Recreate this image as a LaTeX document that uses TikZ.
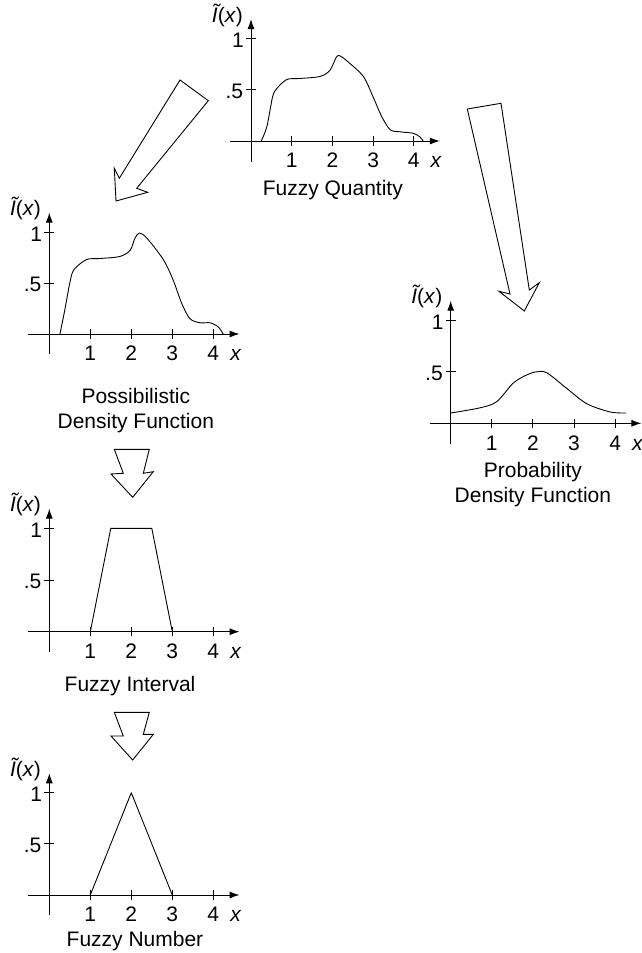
\documentclass[tikz,border=0pt]{standalone}
\usepackage{fontspec}
\setmainfont{Liberation Sans}
\usetikzlibrary{arrows.meta}

\tikzset{
  axisline/.style={line width=1pt, -{Latex[length=10pt,width=7pt]}},
  tickmark/.style={line width=1pt},
  fcurve/.style={line width=0.9pt, line join=round},
  hollow/.style={line width=0.9pt, fill=white, line join=miter},
  lbl/.style={font=\fontsize{21}{25}\selectfont, inner sep=0pt},
  pics/fuzzyaxes/.style={code={
    \draw[axisline] (-0.51,0) -- (4.64,0);
    \draw[axisline] (0,-0.2) -- (0,1.19);
    \foreach \n in {1,...,4} {
      \draw[tickmark] (\n,-0.045) -- (\n,0.045);
      \node[lbl, anchor=base] (-x\n) at (\n,-0.26) {\n};
    }
    \draw[tickmark] (-0.12,1) -- (0.12,1);
    \draw[tickmark] (-0.12,0.5) -- (0.12,0.5);
    \node[lbl, anchor=east] (-one) at (-0.17,0.98) {1};
    \node[lbl, anchor=east] (-half) at (-0.19,0.485) {.5};
    \node[lbl, anchor=base] (-xlab) at (4.55,-0.26) {\textit{x}};
    \node[lbl, anchor=base] (-ylab) at (-0.58,1.16) {{\itshape\~I}(\textit{x})};
  }}
}

\begin{document}
\begin{tikzpicture}[x=1pt, y=-1pt]
    \useasboundingbox (0,0) rectangle (642,953);

    % Fuzzy Quantity
    \begin{scope}[shift={(251,141)}, x=40.7pt, y=102.5pt]
        \pic (quant) {fuzzyaxes};
        \draw[fcurve] plot[smooth, tension=0.5] coordinates {(0.25,0) (0.39,0.14) (0.53,0.43) (0.63,0.51) (0.88,0.60) (1.2,0.61) (1.7,0.63) (1.94,0.69) (2.1,0.82) (2.19,0.83) (2.39,0.77) (2.76,0.63) (3.0,0.43) (3.21,0.24) (3.42,0.11) (3.66,0.09) (3.99,0.075) (4.15,0.04) (4.23,0)};
        \node[lbl, anchor=base] (quantity) at (2.01,-0.527) {Fuzzy Quantity};
    \end{scope}

    % Possibilistic Density Function
    \begin{scope}[shift={(49.3,334)}, x=41pt, y=102pt]
        \pic (poss) {fuzzyaxes};
        \draw[fcurve] plot[smooth, tension=0.5] coordinates {(0.26,0) (0.38,0.24) (0.5,0.5) (0.6,0.63) (0.91,0.73) (1.24,0.74) (1.72,0.76) (1.97,0.82) (2.09,0.94) (2.2,0.99) (2.38,0.94) (2.78,0.73) (3.02,0.53) (3.23,0.3) (3.43,0.15) (3.68,0.11) (3.92,0.11) (4.12,0.07) (4.24,0)};
        \node[lbl, anchor=north, align=center] (possib) at (2.11,-0.532) {Possibilistic\\Density Function};
    \end{scope}

    % Probability Density Function
    \begin{scope}[shift={(450.7,423.3)}, x=41.1pt, y=103pt]
        \pic (prob) {fuzzyaxes};
        \draw[fcurve] plot[smooth, tension=0.5] coordinates {(0,0.1) (0.71,0.15) (1.12,0.21) (1.52,0.39) (1.85,0.47) (2.09,0.5) (2.34,0.49) (2.82,0.34) (3.31,0.19) (3.88,0.11) (4.27,0.1)};
        \node[lbl, anchor=north, align=center] (probab) at (2.0,-0.373) {Probability\\Density Function};
    \end{scope}

    % Fuzzy Interval
    \begin{scope}[shift={(49.3,631.7)}, x=41pt, y=103.4pt]
        \pic (intv) {fuzzyaxes};
        \draw[fcurve] (1,0) -- (1.5,1) -- (2.5,1) -- (3,0);
        \node[lbl, anchor=base] (interval) at (1.97,-0.58) {Fuzzy Interval};
    \end{scope}

    % Fuzzy Number
    \begin{scope}[shift={(49.3,895)}, x=41pt, y=102.3pt]
        \pic (numb) {fuzzyaxes};
        \draw[fcurve] (1,0) -- (2,1) -- (3,0);
        \node[lbl, anchor=base] (number) at (2.09,-0.505) {Fuzzy Number};
    \end{scope}

    % hollow arrows
    \draw[hollow] (180,80) -- (119.3,178.3) -- (114.3,168.3) -- (116,201) -- (147.7,192.3) -- (136.7,188.3) -- (208.3,100.7) -- cycle;
    \draw[hollow] (467.3,109) -- (510,294) -- (499,291.3) -- (524.3,311) -- (539.3,282.7) -- (529.3,290) -- (501,103.3) -- cycle;
    \draw[hollow] (114.3,449.3) -- (123.3,473.3) -- (111,474) -- (132.7,497.3) -- (153.3,471.7) -- (143.3,473.3) -- (149.3,449.3) -- cycle;
    \draw[hollow] (114.3,712.3) -- (123.3,736) -- (111,736) -- (132.7,760) -- (153.3,734.3) -- (143.3,734.3) -- (149.3,712.3) -- cycle;
\end{tikzpicture}
\end{document}
